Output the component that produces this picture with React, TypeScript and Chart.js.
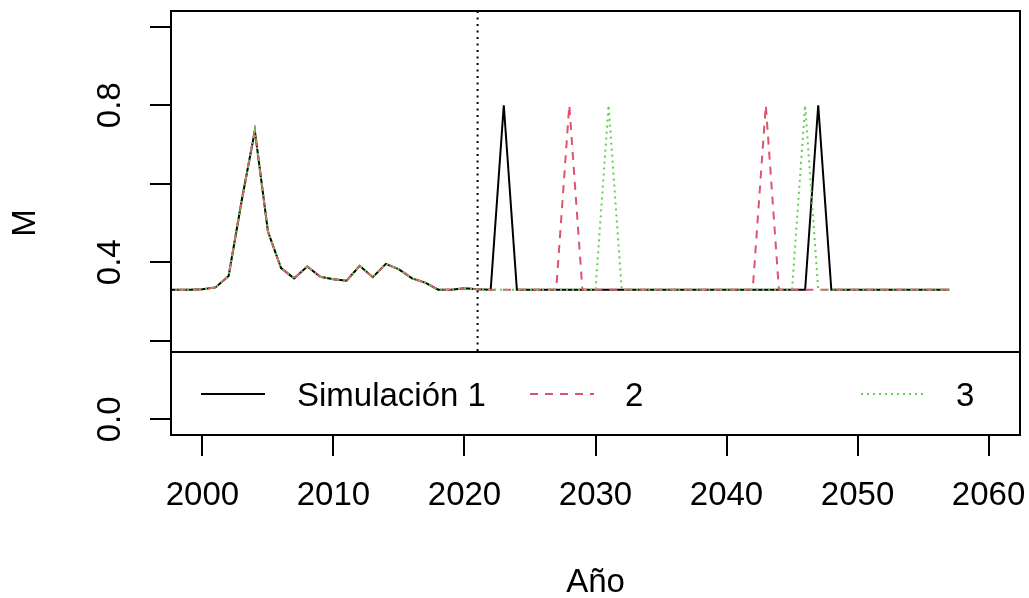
import React, { useEffect, useRef } from 'react';
import { Chart, registerables } from 'chart.js';

Chart.register(...registerables);

// ---- data ----
const HIST_YEARS = [1997, 1998, 1999, 2000, 2001, 2002, 2003, 2004, 2005, 2006, 2007, 2008, 2009, 2010, 2011, 2012, 2013, 2014, 2015, 2016, 2017, 2018, 2019, 2020, 2021];
const HIST_M = [0.33, 0.33, 0.33, 0.331, 0.336, 0.365, 0.558, 0.735, 0.478, 0.385, 0.359, 0.389, 0.363, 0.357, 0.353, 0.391, 0.362, 0.396, 0.382, 0.359, 0.348, 0.33, 0.33, 0.334, 0.331];

const SIM_YEARS = [2022, 2023, 2024, 2025, 2026, 2027, 2028, 2029, 2030, 2031, 2032, 2033, 2034, 2035, 2036, 2037, 2038, 2039, 2040, 2041, 2042, 2043, 2044, 2045, 2046, 2047, 2048, 2049, 2050, 2051, 2052, 2053, 2054, 2055, 2056, 2057];
const SIM_1 = [0.33, 0.8, 0.33, 0.33, 0.33, 0.33, 0.33, 0.33, 0.33, 0.33, 0.33, 0.33, 0.33, 0.33, 0.33, 0.33, 0.33, 0.33, 0.33, 0.33, 0.33, 0.33, 0.33, 0.33, 0.33, 0.8, 0.33, 0.33, 0.33, 0.33, 0.33, 0.33, 0.33, 0.33, 0.33, 0.33];
const SIM_2 = [0.33, 0.33, 0.33, 0.33, 0.33, 0.33, 0.8, 0.33, 0.33, 0.33, 0.33, 0.33, 0.33, 0.33, 0.33, 0.33, 0.33, 0.33, 0.33, 0.33, 0.33, 0.8, 0.33, 0.33, 0.33, 0.33, 0.33, 0.33, 0.33, 0.33, 0.33, 0.33, 0.33, 0.33, 0.33, 0.33];
const SIM_3 = [0.33, 0.33, 0.33, 0.33, 0.33, 0.33, 0.33, 0.33, 0.33, 0.8, 0.33, 0.33, 0.33, 0.33, 0.33, 0.33, 0.33, 0.33, 0.33, 0.33, 0.33, 0.33, 0.33, 0.33, 0.8, 0.33, 0.33, 0.33, 0.33, 0.33, 0.33, 0.33, 0.33, 0.33, 0.33, 0.33];

const SERIES_LABELS = ['Simulación 1', '2', '3'];
const SERIES_COLORS = ['#000000', '#DF536B', '#61D04F'];

const X_TICKS = [2000, 2010, 2020, 2030, 2040, 2050, 2060];
const Y_TICKS = [0, 0.2, 0.4, 0.6, 0.8, 1.0];
const Y_TICK_LABELS = ['0.0', '', '0.4', '', '0.8', ''];
const CUT_YEAR = 2021;
const X_TITLE = 'Año';
const Y_TITLE = 'M';

// ---- styles ----
const FONT = '33px "Liberation Sans", Arial, sans-serif';
const DASHES = [[], [8, 7], [2, 4]];

function series(sim: number[]) {
  const pts = HIST_YEARS.map((x, i) => ({ x, y: HIST_M[i] }));
  return pts.concat(SIM_YEARS.map((x, i) => ({ x, y: sim[i] })));
}

const decor = {
  id: 'rDecor',
  afterDatasetsDraw(chart: any) {
    const { ctx, chartArea: a, scales } = chart;
    const xs = scales.x;
    ctx.save();
    // vertical dotted line
    const vx = xs.getPixelForValue(CUT_YEAR);
    ctx.strokeStyle = '#000';
    ctx.lineWidth = 2;
    ctx.setLineDash([2, 4.5]);
    ctx.beginPath();
    ctx.moveTo(vx, a.top);
    ctx.lineTo(vx, a.bottom);
    ctx.stroke();
    ctx.setLineDash([]);

    // legend box
    const lTop = a.bottom - 83;
    ctx.fillStyle = '#fff';
    ctx.fillRect(a.left, lTop, a.right - a.left, a.bottom - lTop);
    ctx.beginPath();
    ctx.moveTo(a.left, lTop);
    ctx.lineTo(a.right, lTop);
    ctx.stroke();
    const ly = lTop + 42;
    const lineOff = [30, 359, 690];
    const textOff = [126, 454, 785];
    ctx.font = FONT;
    ctx.textBaseline = 'middle';
    ctx.textAlign = 'left';
    chart.data.datasets.forEach((ds: any, i: number) => {
      ctx.strokeStyle = ds.borderColor;
      ctx.setLineDash(ds.borderDash || []);
      ctx.beginPath();
      ctx.moveTo(a.left + lineOff[i], ly);
      ctx.lineTo(a.left + lineOff[i] + 64, ly);
      ctx.stroke();
      ctx.setLineDash([]);
      ctx.fillStyle = '#000';
      ctx.fillText(ds.label, a.left + textOff[i], ly + 3);
    });

    // frame
    ctx.strokeStyle = '#000';
    ctx.lineWidth = 2;
    ctx.strokeRect(a.left, a.top, a.right - a.left, a.bottom - a.top);
    ctx.restore();
  },
  afterDraw(chart: any) {
    const { ctx, chartArea: a, scales } = chart;
    ctx.save();
    ctx.fillStyle = '#000';
    ctx.font = FONT;
    ctx.textBaseline = 'middle';
    ctx.textAlign = 'center';
    scales.x.ticks.forEach((t: any) => {
      ctx.fillText(String(t.value), scales.x.getPixelForValue(t.value), a.bottom + 61);
    });
    scales.y.ticks.forEach((t: any, i: number) => {
      const lab = Y_TICK_LABELS[i];
      if (!lab) return;
      ctx.save();
      ctx.translate(a.left - 62, scales.y.getPixelForValue(t.value));
      ctx.rotate(-Math.PI / 2);
      ctx.fillText(lab, 0, 2);
      ctx.restore();
    });
    ctx.fillText(X_TITLE, (a.left + a.right) / 2, a.bottom + 148);
    ctx.save();
    ctx.translate(26, (a.top + a.bottom) / 2);
    ctx.rotate(-Math.PI / 2);
    ctx.fillText(Y_TITLE, 0, 0);
    ctx.restore();
    ctx.restore();
  },
};

export default function App() {
  const ref = useRef<HTMLCanvasElement>(null);
  useEffect(() => {
    if (!ref.current) return;
    const sims = [SIM_1, SIM_2, SIM_3];
    const chart = new Chart(ref.current, {
      type: 'line',
      data: {
        datasets: sims.map((s, i) => ({
          label: SERIES_LABELS[i],
          data: series(s),
          borderColor: SERIES_COLORS[i],
          borderWidth: 2,
          borderDash: DASHES[i],
          pointRadius: 0,
          fill: false,
          tension: 0,
          order: 3 - i,
        })),
      },
      options: {
        animation: false,
        responsive: false,
        devicePixelRatio: 1,
        layout: { padding: { left: 0, top: 11, right: 9, bottom: 0 } },
        plugins: { legend: { display: false }, tooltip: { enabled: false } },
        scales: {
          x: {
            type: 'linear',
            min: 1997.6,
            max: 2062.4,
            border: { display: false },
            grid: { display: true, drawOnChartArea: false, drawTicks: true, tickLength: 21, color: '#000', lineWidth: 2 },
            ticks: { display: false },
            afterBuildTicks: (s: any) => { s.ticks = X_TICKS.map((v) => ({ value: v })); },
            afterFit: (s: any) => { s.height = 163; },
          },
          y: {
            type: 'linear',
            min: -0.04,
            max: 1.04,
            border: { display: false },
            grid: { display: true, drawOnChartArea: false, drawTicks: true, tickLength: 21, color: '#000', lineWidth: 2 },
            ticks: { display: false },
            afterBuildTicks: (s: any) => { s.ticks = Y_TICKS.map((v) => ({ value: v })); },
            afterFit: (s: any) => { s.width = 171; },
          },
        },
      },
      plugins: [decor],
    } as any);
    return () => chart.destroy();
  }, []);
  return (
    <div style={{ position: 'fixed', left: 0, top: 0, width: 1029, height: 598, background: '#fff' }}>
      <canvas ref={ref} width={1029} height={598} />
    </div>
  );
}
